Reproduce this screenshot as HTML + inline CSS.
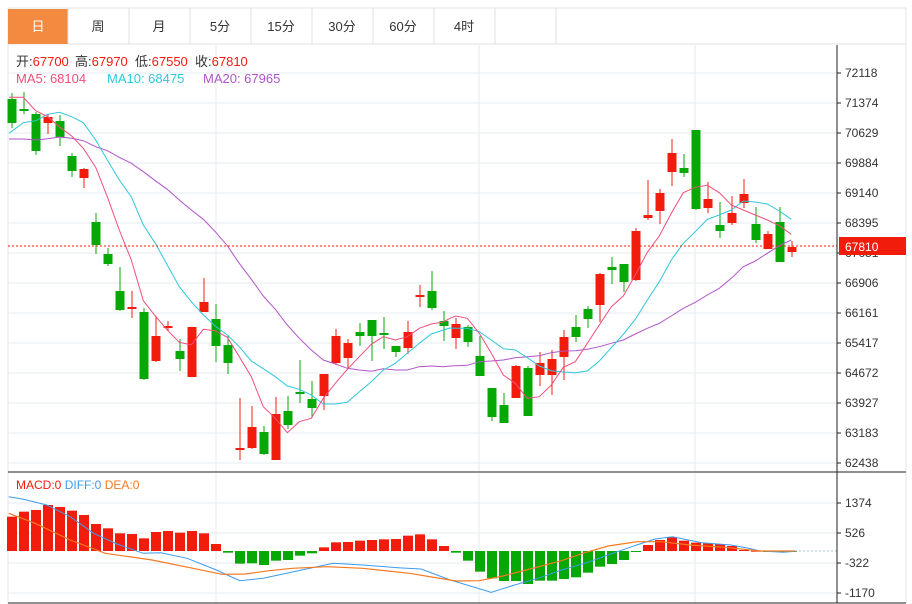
<!DOCTYPE html>
<html><head><meta charset="utf-8"><style>
body{margin:0;background:#fff;width:912px;height:604px;overflow:hidden;font-family:"Liberation Sans","Noto Sans CJK SC",sans-serif}
svg{position:absolute;left:0;top:0}
</style></head><body>
<svg id="s" width="912" height="604" xmlns="http://www.w3.org/2000/svg" font-family="Liberation Sans, Noto Sans CJK SC, sans-serif">
<rect x="8" y="8" width="898" height="595" fill="none" stroke="#e0e4e8"/>
<line x1="8" y1="44" x2="906" y2="44" stroke="#dde2e6"/>
<rect x="8" y="9" width="60" height="35" fill="#f28b3f"/>
<g stroke="#dde2e6"><line x1="68" y1="8" x2="68" y2="44"/><line x1="129" y1="8" x2="129" y2="44"/><line x1="190" y1="8" x2="190" y2="44"/><line x1="251" y1="8" x2="251" y2="44"/><line x1="312" y1="8" x2="312" y2="44"/><line x1="373" y1="8" x2="373" y2="44"/><line x1="434" y1="8" x2="434" y2="44"/><line x1="495" y1="8" x2="495" y2="44"/><line x1="556" y1="8" x2="556" y2="44"/></g>
<g font-size="13" text-anchor="middle" fill="#333"><text x="38" y="31" fill="#fff">日</text><text x="98" y="31">周</text><text x="159" y="31">月</text><text x="220" y="31">5分</text><text x="281" y="31">15分</text><text x="342" y="31">30分</text><text x="403" y="31">60分</text><text x="464" y="31">4时</text></g>
<g id="grid" stroke="#e6ebef"></g>
<g stroke="#e6ebef"><line x1="216" y1="45" x2="216" y2="472"/><line x1="479" y1="45" x2="479" y2="472"/><line x1="695" y1="45" x2="695" y2="472"/><line x1="216" y1="473" x2="216" y2="603"/><line x1="479" y1="473" x2="479" y2="603"/><line x1="695" y1="473" x2="695" y2="603"/></g>
<g font-size="13"><text x="16" y="66" fill="#333">开:<tspan fill="#f21c0c">67700</tspan></text><text x="75" y="66" fill="#333">高:<tspan fill="#f21c0c">67970</tspan></text><text x="135" y="66" fill="#333">低:<tspan fill="#f21c0c">67550</tspan></text><text x="195" y="66" fill="#333">收:<tspan fill="#f21c0c">67810</tspan></text>
<text x="16" y="83" fill="#ef4f7d">MA5: 68104</text><text x="107" y="83" fill="#2fc6dc">MA10: 68475</text><text x="203" y="83" fill="#b055c8">MA20: 67965</text></g>
<g id="cd"></g><g id="ma"></g><g id="mc"></g>
<line x1="8" y1="246" x2="837" y2="246" stroke="#f21c0c" stroke-dasharray="2,2"/>
<line x1="8" y1="472" x2="906" y2="472" stroke="#222"/>
<line x1="8" y1="603" x2="906" y2="603" stroke="#222"/>
<line x1="837" y1="45" x2="837" y2="603" stroke="#222"/>
<g id="ax" font-size="12" fill="#333"></g>
<g font-size="12" fill="#333"><text x="845" y="507">1374</text><text x="845" y="537">526</text><text x="845" y="567">-322</text><text x="845" y="597">-1170</text></g>
<g stroke="#222"><line x1="837" y1="503" x2="841" y2="503"/><line x1="837" y1="533" x2="841" y2="533"/><line x1="837" y1="563" x2="841" y2="563"/><line x1="837" y1="593" x2="841" y2="593"/></g>
<rect x="839" y="237" width="67" height="18" fill="#f21c0c"/>
<text x="845" y="251" font-size="12" fill="#fff">67810</text>
<text x="16" y="489" font-size="12" fill="#f21c0c">MACD:0 <tspan fill="#3d9bec">DIFF:0</tspan> <tspan fill="#f5791f">DEA:0</tspan></text>
</svg>
<script>
var NS="http://www.w3.org/2000/svg";
function el(p,t,a){var e=document.createElementNS(NS,t);for(var k in a)e.setAttribute(k,a[k]);document.getElementById(p).appendChild(e);return e;}
var labs=[72118,71374,70629,69884,69140,68395,67651,66906,66161,65417,64672,63927,63183,62438];
for(var i=0;i<14;i++){var y=73+30*i;el("grid","line",{x1:8,y1:y,x2:837,y2:y});el("ax","line",{x1:837,y1:y,x2:841,y2:y,stroke:"#222"});var t=el("ax","text",{x:845,y:y+4});t.textContent=labs[i];}
[503,533,563,593].forEach(function(y){el("grid","line",{x1:8,y1:y,x2:837,y2:y});});
var C=[["G",93,99,123,128],["G",92,109,110,114],["G",112,114,151,155],["R",114,117,123,134],["G",115,121,137,146],["G",153,156,171,177],["R",168,169,178,188],["G",213,222,245,254],["G",248,254,264,266],["G",267,291,310,311],["R",291,307,309,318],["G",308,312,379,380],["R",316,336,361,362],["R",321,326,328,331],["G",339,351,359,371],["R",327,327,377,377],["R",278,302,312,312],["G",304,319,346,362],["G",335,345,363,374],["R",398,448,450,460],["R",406,427,448,449],["G",426,432,454,455],["R",397,414,460,460],["G",396,411,425,429],["G",360,392,394,403],["G",381,399,408,417],["R",374,374,396,410],["R",329,336,363,365],["R",339,343,358,369],["G",323,332,336,346],["G",320,320,336,361],["G",317,333,335,349],["G",346,346,352,357],["R",321,332,348,354],["R",285,295,297,307],["G",271,291,308,310],["G",311,321,326,341],["R",318,324,338,349],["G",325,327,342,347],["G",336,356,376,376],["G",388,388,417,421],["G",393,405,423,423],["R",365,366,398,398],["G",366,368,416,416],["R",352,363,375,386],["R",350,359,375,395],["R",330,337,357,380],["G",315,327,337,342],["G",306,309,319,328],["R",273,274,305,322],["G",257,267,270,284],["G",264,264,282,292],["R",228,231,280,281],["R",180,215,218,220],["R",189,193,211,224],["R",139,153,172,186],["G",154,168,173,177],["G",130,130,209,210],["R",182,199,208,213],["G",202,225,231,238],["R",196,213,223,225],["R",179,194,203,208],["G",207,224,240,243],["R",231,234,249,249],["G",207,222,262,262],["R",241,247,252,257]];
C.forEach(function(c,i){var x=12+12*i,col=c[0]=="R"?"#f21c0c":"#06a806";el("cd","line",{x1:x,y1:c[1],x2:x,y2:c[4],stroke:col,"stroke-width":1});el("cd","rect",{x:x-4.5,y:c[2],width:9,height:Math.max(2,c[3]-c[2]),fill:col});});
function pl(g,pts,col,ox,sx,oy,sy,w){var s=pts.map(function(p){return (ox+p[0]/sx).toFixed(1)+","+(oy+p[1]/sy).toFixed(1)}).join(" ");el(g,"polyline",{points:s,fill:"none",stroke:col,"stroke-width":w||1});}
var m5a=[[27,52],[70,52],[107,92],[143,110],[178,140],[215,168],[250,205],[287,262],[322,350],[358,450],[394,540],[430,662],[466,708],[502,750],[538,787],[574,795],[610,748],[646,752],[682,772],[718,830],[754,890],[790,980],[826,1015],[862,1058],[898,1025],[934,1015],[970,955],[1006,910],[1042,868],[1078,830],[1114,793],[1150,770],[1186,780],[1222,770],[1258,745],[1294,732],[1330,726],[1350,715]];
var m5b=[[17,708],[52,715],[88,760],[124,820],[160,885],[196,910],[232,955],[268,950],[304,915],[340,862],[376,845],[412,790],[448,735],[484,680],[520,648],[556,585],[592,517],[628,468],[664,400],[700,338],[736,322],[772,316],[808,338],[844,375],[880,390],[916,405],[952,420],[988,437],[1024,463]];
var m10a=[[27,160],[70,128],[107,122],[143,103],[178,97],[215,110],[250,128],[287,180],[322,240],[358,300],[394,350],[430,435],[466,490],[502,555],[538,620],[574,665],[610,705],[646,738],[682,765],[718,800],[754,843],[790,866],[826,890],[862,918],[898,928],[934,945],[970,972],[1006,972],[1042,967],[1078,935],[1114,905],[1150,870],[1186,850],[1222,820],[1258,790],[1294,762],[1330,750],[1350,744]];
var m10b=[[17,745],[52,745],[88,755],[124,780],[160,806],[196,810],[232,833],[268,858],[304,872],[340,876],[376,878],[412,873],[448,843],[484,803],[520,763],[556,718],[592,660],[628,605],[664,540],[700,490],[736,455],[772,418],[808,405],[844,390],[880,363],[916,366],[952,372],[988,393],[1024,418]];
var m20a=[[27,177],[70,177],[107,180],[143,176],[178,171],[215,175],[250,182],[287,200],[322,212],[358,232],[394,250],[430,275],[466,302],[502,328],[538,360],[574,390],[610,418],[646,455],[682,497],[718,550],[754,598],[790,648],[826,688],[862,735],[898,775],[934,810],[970,840],[1006,852],[1042,865],[1078,870],[1114,874],[1150,866],[1186,870],[1222,870],[1258,860],[1294,858],[1330,860],[1350,858]];
var m20b=[[52,856],[88,845],[124,843],[160,840],[196,833],[232,830],[268,827],[304,818],[340,813],[376,812],[412,808],[448,800],[484,790],[520,780],[556,762],[592,745],[628,730],[664,708],[700,685],[736,667],[772,645],[808,625],[844,595],[880,560],[916,543],[952,520],[988,497],[1024,480]];
function cat(a,b){return a.map(function(p){return [p[0]/3,80+p[1]/3]}).concat(b.map(function(p){return [450+p[0]/3,80+p[1]/3]}));}
pl("ma",cat(m20a,m20b),"#b055c8",0,1,0,1);
pl("ma",cat(m10a,m10b),"#2fc6dc",0,1,0,1);
pl("ma",cat(m5a,m5b),"#ef4f7d",0,1,0,1);
var H=[140,125,120,105,111,122,135,162,175,190,192,205,186,183,188,183,190,222,248,281,280,285,272,270,257,250,232,217,216,212,210,208,207,197,193,208,228,248,272,305,325,333,333,342,332,332,327,322,308,290,282,270,245,225,210,202,212,218,220,222,228,240,242,243,244,245];
H.forEach(function(v,i){var x=12+12*i,y=470+v/3,z=551;var col=y<z?"#f21c0c":"#06a806";var t=Math.min(y,z),h=Math.max(1,Math.abs(y-z));el("mc","rect",{x:x-5,y:t,width:10,height:h,fill:col});});
el("mc","line",{x1:795,y1:551,x2:837,y2:551,stroke:"#9cc7ea","stroke-dasharray":"2,2"});
var dif=[[15,80],[40,88],[80,105],[120,140],[160,190],[200,222],[245,250],[275,248],[320,265],[370,300],[410,332],[450,325],[490,310],[530,295],[570,280],[620,285],[680,293],[720,297],[770,330],[840,367],[880,345],[920,325],[960,300],[1000,280],[1040,255],[1080,230],[1120,207],[1150,200],[1200,218],[1250,225],[1280,235],[1300,243],[1340,247],[1360,244]];
var dea=[[15,130],[60,160],[120,210],[180,250],[260,270],[330,295],[380,313],[420,312],[460,302],[500,295],[560,290],[620,295],[700,310],[780,333],[820,332],[860,318],[900,300],[960,272],[1000,248],[1040,228],[1090,215],[1130,215],[1180,225],[1240,232],[1300,243],[1360,243]];
pl("mc",dif,"#3d9bec",0,1.71,470,3);
pl("mc",dea,"#f5791f",0,1.71,470,3,1.2);
</script>
</body></html>
